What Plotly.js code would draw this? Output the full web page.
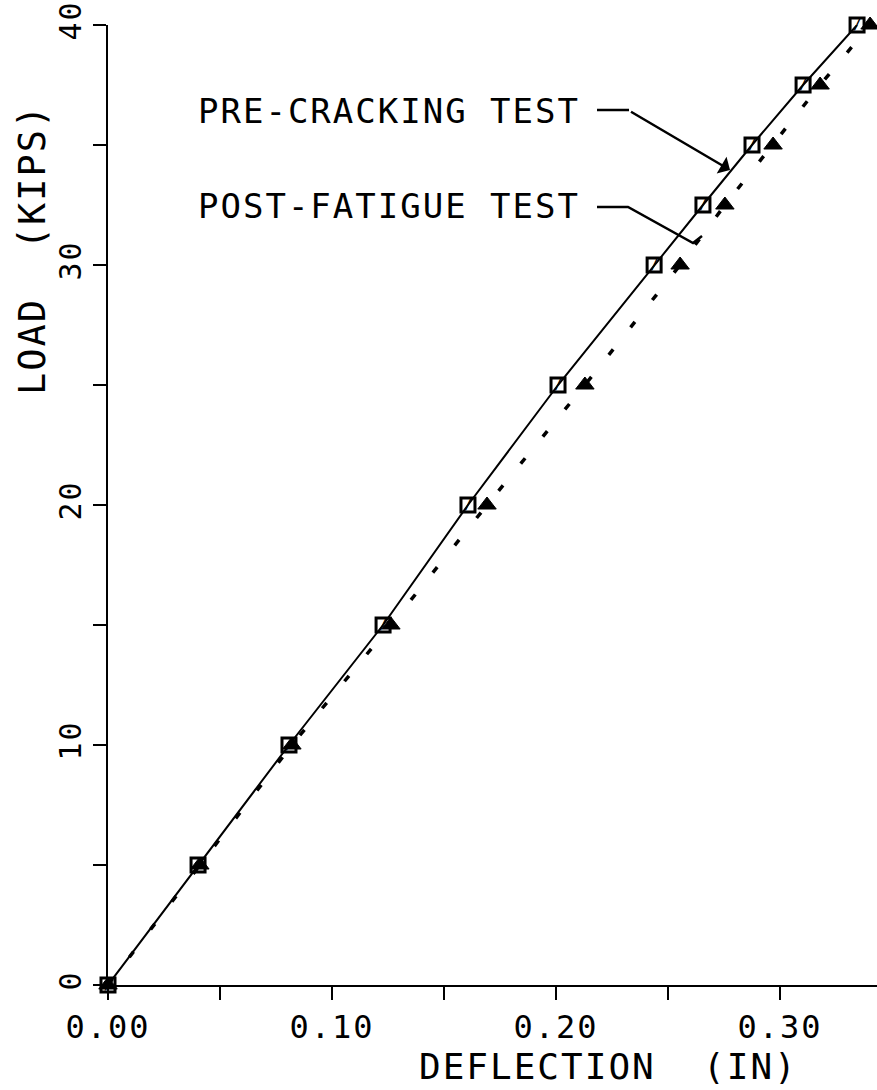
<!DOCTYPE html>
<html>
<head>
<meta charset="utf-8">
<script src="https://cdn.plot.ly/plotly-3.0.1.min.js"></script>
<style>
  html, body { margin: 0; padding: 0; background: #fff; }
  #chart { width: 877px; height: 1090px; }
  .annotation-text, g.xtick text, g.ytick text { letter-spacing: 2px; }
</style>
</head>
<body>
<div id="chart"></div>
<script>
// Load levels (kips)
const loads = [0, 5, 10, 15, 20, 25, 30, 32.5, 35, 37.5, 40];
// Deflection (in) - pre-cracking test (squares, solid line)
const preDeflection = [0, 0.0402, 0.0808, 0.1228, 0.1607, 0.2009, 0.2438, 0.2656, 0.2875, 0.3103, 0.3344];
// Deflection (in) - post-fatigue test (triangles, dashed line)
const postDeflection = [0, 0.0410, 0.0821, 0.1263, 0.1692, 0.2129, 0.2554, 0.2754, 0.2969, 0.3179, 0.3402];

const xTickVals = [0, 0.05, 0.10, 0.15, 0.20, 0.25, 0.30];
const xTickText = ["0.00", "", "0.10", "", "0.20", "", "0.30"];
const yTickVals = [0, 5, 10, 15, 20, 25, 30, 35, 40];
const yTickText = ["0", "", "10", "", "20", "", "30", "", "40"];

const xTitle = "DEFLECTION  (IN)";
const yTitle = "LOAD  (KIPS)";
const preLabel = "PRE-CRACKING TEST";
const postLabel = "POST-FATIGUE TEST";
const squareSlash = "/";

const FONT = "DejaVu Sans Mono, monospace";

const traces = [
  { x: preDeflection, y: loads, mode: "lines", line: { color: "#000", width: 2 }, cliponaxis: false, hoverinfo: "skip" },
  { x: postDeflection, y: loads, mode: "lines", line: { color: "#000", width: 3.5, dash: "7px,28px" }, cliponaxis: false, hoverinfo: "skip" },
  { x: preDeflection, y: loads, mode: "markers", cliponaxis: false,
    marker: { symbol: "square-open", size: 14, color: "#000", line: { color: "#000", width: 3 } } },
  { x: preDeflection, y: loads, mode: "text", cliponaxis: false,
    text: loads.map(() => squareSlash), textposition: "middle center",
    textfont: { family: "DejaVu Sans Mono, monospace", size: 14, color: "#000", weight: "bold" } },
  { x: postDeflection, y: loads, mode: "markers", cliponaxis: false,
    marker: { symbol: "triangle-up", size: 16, color: "#000", line: { color: "#000", width: 1 } } }
];

// pixel helpers for leader geometry (plot area: x0=108px, 2240px/in; y0=985px, 24px/kip)
function dx(px) { return (px - 108) / 2240; }
function dy(py) { return (985 - py) / 24; }

const layout = {
  width: 877, height: 1090,
  margin: { l: 108, r: 0, t: 25, b: 105, pad: 0 },
  paper_bgcolor: "#fff", plot_bgcolor: "#fff",
  showlegend: false,
  hovermode: false,
  font: { family: FONT, color: "#000", size: 32 },
  xaxis: {
    range: [0, 0.3433], showgrid: false, zeroline: false,
    showline: true, linecolor: "#000", linewidth: 2,
    ticks: "outside", ticklen: 13, tickwidth: 2, tickcolor: "#000",
    tickmode: "array", tickvals: xTickVals, ticktext: xTickText,
    tickfont: { family: FONT, size: 32, color: "#000" },
    ticklabelstandoff: 0
  },
  yaxis: {
    range: [0, 40], showgrid: false, zeroline: false,
    showline: true, linecolor: "#000", linewidth: 2,
    ticks: "outside", ticklen: 13, tickwidth: 2, tickcolor: "#000",
    tickmode: "array", tickvals: yTickVals, ticktext: yTickText,
    tickangle: -90,
    tickfont: { family: FONT, size: 30, color: "#000" },
    ticklabelstandoff: 0
  },
  annotations: [
    { xref: "paper", yref: "paper", x: (608 - 108) / 769, y: (985 - 1066) / 960,
      text: xTitle, showarrow: false, xanchor: "center", yanchor: "middle",
      font: { family: FONT, size: 36, color: "#000" } },
    { xref: "paper", yref: "paper", x: (32 - 108) / 769, y: (985 - 250) / 960,
      text: yTitle, showarrow: false, textangle: -90, xanchor: "center", yanchor: "middle",
      font: { family: FONT, size: 37, color: "#000" } },
    { xref: "x", yref: "y", x: dx(196), y: dy(111), text: preLabel, showarrow: false,
      xanchor: "left", yanchor: "middle", font: { family: FONT, size: 34, color: "#000" } },
    { xref: "x", yref: "y", x: dx(196), y: dy(206), text: postLabel, showarrow: false,
      xanchor: "left", yanchor: "middle", font: { family: FONT, size: 34, color: "#000" } },
    { xref: "x", yref: "y", axref: "x", ayref: "y",
      x: dx(730), y: dy(170), ax: dx(628), ay: dy(110),
      text: " ", font: { size: 1 }, showarrow: true, arrowhead: 1, arrowsize: 1.3,
      arrowwidth: 2.5, arrowcolor: "#000", standoff: 0, startstandoff: 0 }
  ],
  shapes: [
    { type: "line", xref: "x", yref: "y", x0: dx(597), y0: dy(110), x1: dx(629), y1: dy(110),
      line: { color: "#000", width: 2.5 } },
    { type: "path", xref: "x", yref: "y",
      path: "M " + dx(597) + "," + dy(207) + " L " + dx(628) + "," + dy(207) +
            " L " + dx(693) + "," + dy(243) + " L " + dx(702) + "," + dy(236),
      line: { color: "#000", width: 2.5 } }
  ]
};

Plotly.newPlot("chart", traces, layout, { displayModeBar: false, staticPlot: true });
</script>
</body>
</html>
